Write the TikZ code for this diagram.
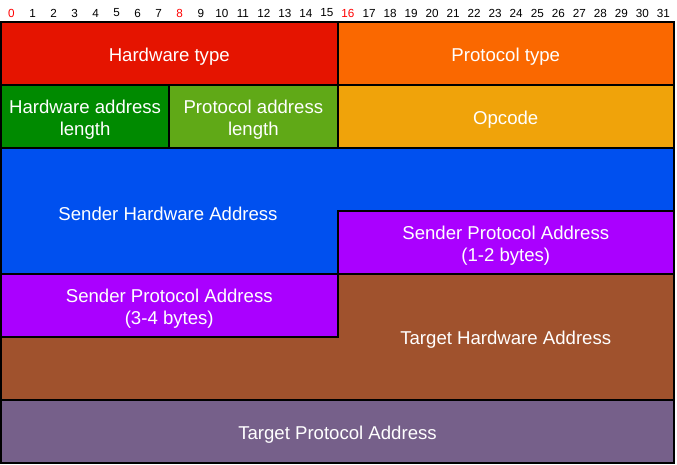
\documentclass[tikz,border=0pt]{standalone}
\usepackage{fontspec}
\setmainfont{Liberation Sans}
\usepackage{tikz}
\usetikzlibrary{positioning,calc}
\definecolor{rosso}{HTML}{E51400}
\definecolor{arancio}{HTML}{FA6800}
\definecolor{verde}{HTML}{008A00}
\definecolor{verdechiaro}{HTML}{60A917}
\definecolor{ambra}{HTML}{F0A30A}
\definecolor{blu}{HTML}{0050EF}
\definecolor{viola}{HTML}{AA00FF}
\definecolor{terra}{HTML}{A0522D}
\definecolor{malva}{HTML}{76608A}
\tikzstyle{campo} = [rectangle, draw=black, line width=2pt, text=white, align=center,
inner sep=0pt, outer sep=0pt, minimum height=63pt, font=\fontsize{18.6}{22.5}\selectfont,
text height=16.85pt, text depth=0.45pt]
\tikzstyle{duerighe} = [text height=39.35pt, text depth=0.45pt]
\tikzstyle{etichetta} = [text=white, align=center, inner sep=0pt, font=\fontsize{18.6}{22.5}\selectfont,
text height=16.85pt, text depth=0.45pt]
\tikzstyle{bordo} = [draw=black, line width=2pt, line join=miter]
\tikzstyle{bit} = [inner sep=0pt, font=\fontsize{11.7}{14}\selectfont]

\begin{document}
\begin{tikzpicture}[x=1pt,y=-1pt]
						\useasboundingbox (0,0) rectangle (677,465);
						% numeri dei bit
						\foreach \i in {1,...,7,9,10,...,15,17,18,...,31}
							\node[bit] (b\i) at ({11.5+21.03*\i},13) {\i};
						\foreach \i in {0,8,16}
							\node[bit,text=red] (b\i) at ({11.5+21.03*\i},13) {\i};
						% prima riga
						\node (ht) at (169.25,53.5) [campo, fill=rosso, minimum width=336.5pt] {Hardware type};
						\node (pt) at (505.75,53.5) [campo, fill=arancio, minimum width=336.5pt] {Protocol type};
						% seconda riga
						\node (hal) at (85.1,116.5) [campo, duerighe, fill=verde, minimum width=168.2pt] {Hardware address\\length};
						\node (pal) at (253.35,116.5) [campo, duerighe, fill=verdechiaro, minimum width=168.3pt] {Protocol address\\length};
						\node (op) at (505.75,116.5) [campo, fill=ambra, minimum width=336.5pt] {Opcode};
						% sender hardware address
						\filldraw[bordo, fill=blu] (1,148) -- (674,148) -- (674,211) -- (337.5,211) -- (337.5,274) -- (1,274) -- cycle;
						\node (sha) at (168,211.8) [etichetta] {Sender Hardware Address};
						\node (spa2) at (505.75,242.5) [campo, duerighe, fill=viola, minimum width=336.5pt] {Sender Protocol Address\\(1-2 bytes)};
						% target hardware address
						\filldraw[bordo, fill=terra] (337.5,274) -- (674,274) -- (674,400) -- (1,400) -- (1,337) -- (337.5,337) -- cycle;
						\node (tha) at (505.75,335.8) [etichetta] {Target Hardware Address};
						\node (spa1) at (169.25,305.5) [campo, duerighe, fill=viola, minimum width=336.5pt] {Sender Protocol Address\\(3-4 bytes)};
						% ultima riga
						\node (tpa) at (337.5,431.5) [campo, fill=malva, minimum width=673pt] {Target Protocol Address};
					\end{tikzpicture}
\end{document}
